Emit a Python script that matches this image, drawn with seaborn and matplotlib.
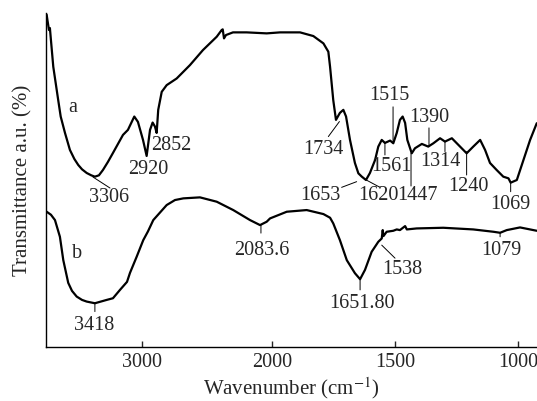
import numpy as np
import seaborn as sns
import matplotlib.pyplot as plt

# FTIR spectra, values (transmittance in arbitrary units)
wn_a = [3733, 3727, 3715, 3708, 3700, 3682, 3644, 3625, 3592, 3554, 3520, 3490,
        3461, 3425, 3390, 3362, 3331, 3300, 3262, 3223, 3146, 3108, 3059, 3031,
        2992, 2964, 2938, 2918, 2900, 2887, 2875, 2848, 2810, 2733, 2631, 2531,
        2425, 2387, 2379, 2369, 2354, 2300, 2195, 2041, 1967, 1886, 1832, 1791,
        1771, 1764, 1751, 1740, 1724, 1710, 1699, 1683, 1663, 1649, 1635, 1618,
        1602, 1581, 1568, 1554, 1541, 1520, 1507, 1493, 1480, 1469, 1459, 1450,
        1432, 1419, 1391, 1365, 1344, 1317, 1297, 1269, 1249, 1209, 1182, 1154,
        1134, 1114, 1087, 1060, 1039, 1030, 1005, 978, 951, 924]
t_a = [99.5, 97.9, 94.9, 95.5, 91.9, 83.9, 73.9, 69.0, 64.1, 59.0, 56.3, 54.5,
       53.2, 52.1, 51.4, 51.0, 51.4, 53.0, 55.4, 58.1, 63.5, 65.0, 69.0, 67.4,
       62.0, 57.2, 65.0, 67.2, 66.0, 64.1, 71.0, 76.4, 78.4, 80.4, 84.4, 88.9,
       92.9, 94.9, 95.1, 92.4, 93.4, 94.2, 94.2, 93.9, 94.2, 94.2, 93.1, 90.9,
       88.4, 83.9, 73.9, 68.0, 70.1, 71.0, 69.0, 62.0, 55.1, 52.0, 51.0, 50.0,
       52.1, 56.0, 60.0, 62.0, 61.1, 61.8, 61.0, 64.1, 68.0, 69.0, 67.1, 62.0,
       58.0, 59.5, 60.8, 60.0, 61.0, 62.5, 61.5, 62.5, 61.0, 58.0, 60.0, 62.0,
       59.0, 55.1, 53.0, 51.0, 50.5, 49.2, 50.0, 56.0, 62.0, 67.0]

wn_b = [3733, 3700, 3669, 3631, 3605, 3567, 3538, 3502, 3461, 3425, 3362, 3271,
        3223, 3169, 3115, 3092, 3041, 2990, 2954, 2913, 2810, 2746, 2682, 2554,
        2425, 2298, 2169, 2092, 2041, 2015, 1940, 1859, 1791, 1764, 1751, 1724,
        1696, 1663, 1642, 1622, 1595, 1568, 1554, 1550, 1547, 1534, 1507, 1493,
        1480, 1459, 1452, 1412, 1304, 1182, 1100, 1073, 1046, 992, 924]
t_b = [40.5, 39.6, 38.0, 33.0, 26.0, 19.2, 16.8, 15.1, 14.1, 13.6, 13.1, 14.1,
       14.6, 17.1, 19.5, 22.2, 27.0, 32.0, 34.6, 38.0, 42.5, 44.0, 44.5, 44.8,
       43.5, 41.0, 38.0, 36.5, 37.5, 38.5, 40.5, 41.0, 39.8, 38.7, 37.0, 32.0,
       26.0, 22.1, 20.3, 23.1, 28.5, 31.5, 32.5, 35.0, 33.2, 34.5, 34.8, 35.2,
       35.0, 36.2, 35.2, 35.5, 35.7, 35.2, 34.5, 34.2, 35.0, 35.8, 34.8]

# peak labels: text, text position, leader line (start, end) or None
peak_labels = ['3306', '2920', '2852', '1734', '1653', '1620', '1447', '1561',
               '1515', '1390', '1314', '1240', '1069',
               '3418', '2083.6', '1651.80', '1538', '1079']
label_pos = [(3254, 44.8), (2950, 53.0), (2777, 60.2), (1793, 59.0), (1805, 45.5),
             (1569, 45.5), (1409, 45.5), (1516, 53.9), (1524, 75.4), (1362, 68.6),
             (1317, 55.5), (1203, 48.0), (1033, 42.8),
             (3365, 6.4), (2077, 29.0), (1634, 13.0), (1472, 23.1), (1069, 29.0)]
leaders = [((3377, 50.9), (3246, 47.6)), None, None,
           ((1771, 63.0), (1726, 67.5)), ((1717, 47.8), (1656, 49.5)),
           ((1622, 50.2), (1561, 47.8)), ((1435, 58.1), (1435, 48.2)),
           ((1541, 61.1), (1541, 57.5)), ((1508, 71.9), (1508, 61.1)),
           ((1362, 65.6), (1362, 60.0)), ((1297, 61.5), (1297, 58.5)),
           ((1209, 58.5), (1209, 51.5)), ((1030, 49.1), (1030, 46.5)),
           ((3362, 13.2), (3362, 10.6)), ((2085, 36.5), (2085, 34.1)),
           ((1642, 20.1), (1642, 17.1)), ((1554, 30.5), (1500, 26.6)),
           ((1073, 34.2), (1073, 33.0))]


# wavenumber axis is compressed above 2000 cm-1
def fwd(w):
    w = np.asarray(w, dtype=float)
    return np.where(w >= 2000, 2000 + (w - 2000) * 130 / 246, w)


def inv(u):
    u = np.asarray(u, dtype=float)
    return np.where(u >= 2000, 2000 + (u - 2000) * 246 / 130, u)


sns.set_style('white')
plt.rcParams['font.family'] = ['Liberation Serif', 'DejaVu Serif']
plt.rcParams['mathtext.fontset'] = 'stix'

fig = plt.figure(figsize=(5.37, 4.01), dpi=100)
ax = fig.add_axes([46 / 537, 54 / 401, 491 / 537, 334 / 401])
ax.set_xscale('function', functions=(fwd, inv))

for wn, t in [(wn_a, t_a), (wn_b, t_b)]:
    sns.lineplot(x=wn, y=t, color='black', lw=1.6, sort=False, estimator=None,
                 ax=ax, solid_joinstyle='round', solid_capstyle='round')

for lab, pos, ln in zip(peak_labels, label_pos, leaders):
    ax.text(pos[0], pos[1], lab, ha='center', va='center', fontsize=14.5)
    if ln is not None:
        ax.annotate('', xy=ln[0], xytext=ln[1],
                    arrowprops=dict(arrowstyle='-', lw=0.7, color='black',
                                    shrinkA=0, shrinkB=0))

ax.text(3531, 71.6, 'a', ha='center', va='center', fontsize=14.5)
ax.text(3500, 28.1, 'b', ha='center', va='center', fontsize=14.5)

ax.set_xlim(3738, 923)
ax.set_ylim(0, 100)
ax.set_xticks([3000, 2000, 1500, 1000])
ax.set_xticklabels(['3000', '2000', '1500', '1000'])
ax.set_yticks([])
ax.tick_params(axis='x', direction='in', length=4, width=1, labelsize=14.5, pad=4,
               bottom=True)
for side in ['top', 'right']:
    ax.spines[side].set_visible(False)
for side in ['left', 'bottom']:
    ax.spines[side].set_color('black')
    ax.spines[side].set_linewidth(1.0)

ax.set_xlabel('Wavenumber (cm$^{-1}$)', fontsize=15, labelpad=3)
ax.set_ylabel('Transmittance a.u. (%)', fontsize=15, labelpad=10)

fig.savefig('out.png', dpi=100)
